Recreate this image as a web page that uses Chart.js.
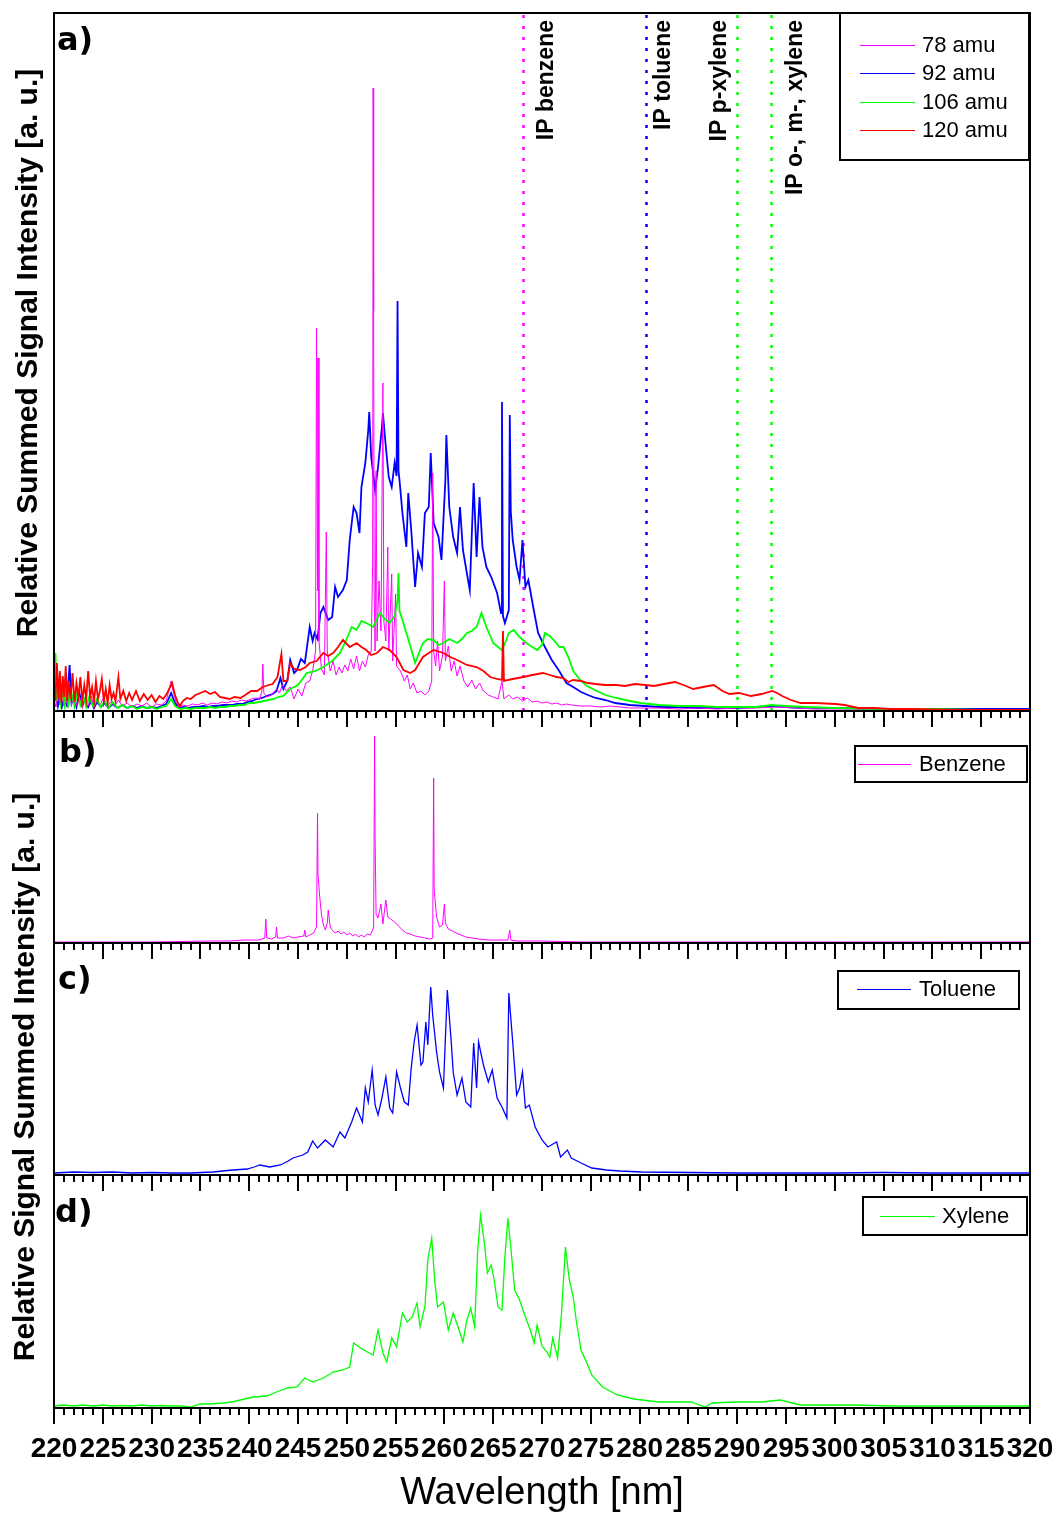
<!DOCTYPE html>
<html>
<head>
<meta charset="utf-8">
<script src="https://cdn.jsdelivr.net/npm/chart.js@4.4.0/dist/chart.umd.min.js"></script>
<style>
body { margin: 0; background: #fff; }
#page { position: relative; width: 1052px; height: 1513px; background: #fff; overflow: hidden; }
canvas { position: absolute; left: 0; }
.ytitle { position: absolute; transform: translate(-50%, -50%) rotate(-90deg); white-space: nowrap;
  font: bold 30px "Liberation Sans", Arial, sans-serif; color: #000; }
</style>
</head>
<body>
<div id="page">
  <canvas id="chartA" width="1052" height="740" style="top:0px"></canvas>
  <canvas id="chartB" width="1052" height="270" style="top:700px"></canvas>
  <canvas id="chartC" width="1052" height="270" style="top:930px"></canvas>
  <canvas id="chartD" width="1052" height="353" style="top:1160px"></canvas>
  <div class="ytitle" style="left:27px;top:353px">Relative Summed Signal Intensity [a. u.]</div>
  <div class="ytitle" style="left:24px;top:1077px">Relative Signal Summed Intensity [a. u.]</div>
</div>
<script>
// x range of every panel (nm)
var wlMin = 220, wlMax = 320;

// two-photon ionisation thresholds marked in panel a
var ipWavelengths = [268.1, 280.7, 290.0, 293.5];
var ipNames = ['IP benzene', 'IP toluene', 'IP p-xylene', 'IP o-, m-, xylene'];
var ipColors = ['#ff00ff', '#0000ff', '#00ff00', '#00ff00'];

// panel a, mass channels [nm, intensity]
var amu78 = [[220,12],[220.2,4],[220.4,18],[220.6,6],[220.8,22],[221,5],[221.2,14],[221.4,4],[221.6,20],[221.8,6],[222,16],[222.3,5],[222.6,14],[222.9,4],[223.2,12],[223.5,5],[223.8,15],[224.1,4],[224.4,10],[224.7,5],[225,12],[225.4,4],[225.8,9],[226.2,5],[226.6,11],[227,5],[227.5,8],[228,4],[228.5,7],[229,5],[229.5,8],[230,4],[230.5,7],[231,6],[231.5,10],[231.8,22],[232,30],[232.2,20],[232.5,9],[232.8,4],[233.2,6],[233.7,5],[234.2,7],[234.7,6],[235.2,8],[235.7,6],[236.2,8],[236.7,7],[237.2,9],[237.7,8],[238.2,10],[238.7,9],[239.2,11],[239.7,10],[240.2,12],[240.7,13],[241.1,12],[241.3,20],[241.4,47],[241.5,18],[241.8,14],[242.3,16],[242.8,22],[243.1,18],[243.4,26],[243.8,20],[244.2,24],[244.6,12],[245,22],[245.4,15],[245.8,28],[246.2,30],[246.5,40],[246.8,60],[246.9,383],[247,120],[247.05,353],[247.15,70],[247.4,42],[247.7,36],[247.9,179],[248,60],[248.3,40],[248.6,50],[248.9,36],[249.2,44],[249.5,38],[249.8,46],[250.1,40],[250.4,52],[250.7,42],[251,55],[251.3,40],[251.6,50],[251.9,44],[252.2,56],[252.5,60],[252.65,150],[252.7,623],[252.75,400],[252.8,120],[252.9,60],[253,240],[253.1,70],[253.3,130],[253.5,80],[253.7,328],[253.8,90],[254,70],[254.2,164],[254.3,60],[254.6,137],[254.7,50],[255,117],[255.1,45],[255.5,40],[255.9,30],[256.2,36],[256.5,22],[256.8,28],[257.2,18],[257.6,20],[258,16],[258.4,20],[258.7,30],[258.8,238],[258.9,60],[259.1,45],[259.3,70],[259.5,40],[259.8,55],[260,130],[260.1,50],[260.4,65],[260.7,40],[261,50],[261.3,35],[261.6,45],[262,30],[262.4,24],[262.8,31],[263.2,22],[263.6,28],[264,20],[264.5,16],[265,14],[265.5,12],[265.9,30],[266.1,12],[266.6,16],[267,12],[267.5,14],[268,10],[268.5,13],[269,9],[269.5,10],[270,8],[270.5,9],[271,7],[271.5,8],[272,6],[272.5,7],[273,6],[274,5],[275,5],[276,4],[277,5],[278,4],[279,3],[280,3],[282,3],[284,2],[286,3],[288,2],[290,3],[292,3],[294,4],[296,3],[298,2],[300,2],[305,2],[310,1],[315,1],[320,1]];
var amu92 = [[220,8],[220.2,20],[220.4,5],[220.6,15],[220.8,4],[221,12],[221.3,6],[221.6,46],[221.8,8],[222,14],[222.3,4],[222.6,18],[222.9,5],[223.2,12],[223.5,4],[223.8,10],[224.1,3],[224.4,9],[224.8,4],[225.2,8],[225.6,3],[226,7],[226.5,3],[227,6],[227.5,3],[228,5],[228.5,3],[229,5],[229.5,3],[230,4],[230.5,3],[231,5],[231.5,7],[232,18],[232.4,8],[232.8,3],[233.3,4],[233.8,3],[234.3,4],[234.8,4],[235.3,5],[235.8,4],[236.3,5],[236.8,5],[237.3,6],[237.8,6],[238.3,6],[238.8,7],[239.3,7],[239.8,9],[240.3,10],[240.8,12],[241.3,13],[241.8,15],[242.4,17],[242.8,20],[243.2,33],[243.5,22],[243.9,30],[244.2,51],[244.6,38],[244.9,41],[245.3,52],[245.7,48],[246.2,84],[246.5,70],[246.7,78],[247,72],[247.3,98],[247.6,104],[248.1,91],[248.5,94],[248.8,124],[249.1,114],[249.6,121],[250,131],[250.3,171],[250.7,204],[251,198],[251.3,178],[251.5,224],[251.9,248],[252.2,281],[252.3,299],[252.5,254],[252.9,221],[253.2,244],[253.6,284],[253.7,298],[254,264],[254.3,234],[254.6,224],[254.9,248],[255.1,235],[255.2,410],[255.3,240],[255.4,231],[255.7,198],[256.1,164],[256.3,218],[256.6,181],[257,124],[257.3,158],[257.7,144],[258,198],[258.4,204],[258.6,258],[258.9,188],[259.4,174],[259.7,151],[260.1,231],[260.2,276],[260.5,204],[260.9,174],[261.3,158],[261.6,204],[261.9,161],[262.3,138],[262.6,121],[263,228],[263.3,154],[263.6,214],[263.9,164],[264.3,144],[264.8,134],[265.4,118],[265.8,98],[265.9,309],[266,95],[266.2,88],[266.6,101],[266.7,296],[266.8,200],[267,171],[267.4,144],[267.7,131],[268,171],[268.3,124],[268.6,131],[269.1,104],[269.6,78],[270.3,64],[271,51],[271.7,41],[272.5,28],[273.2,24],[274,19],[274.7,16],[275.5,13],[276.5,11],[277.5,8],[279,6],[280.5,5],[282,4],[284,4],[286,3],[288,3],[290,3],[292,4],[293.5,5],[295,4],[297,3],[300,3],[305,2],[310,2],[315,2],[320,2]];
var amu106 = [[220,15],[220.15,58],[220.3,10],[220.5,30],[220.7,8],[220.9,22],[221.1,6],[221.3,25],[221.5,7],[221.8,18],[222.1,5],[222.4,20],[222.7,6],[223,15],[223.3,4],[223.6,14],[224,5],[224.4,12],[224.8,4],[225.2,10],[225.6,3],[226,9],[226.5,3],[227,6],[227.5,3],[228,5],[228.5,2],[229,4],[229.5,3],[230,4],[230.5,2],[231,4],[231.5,5],[232,12],[232.4,5],[232.9,2],[233.5,3],[234,2],[234.5,3],[235,3],[235.5,3],[236,4],[236.5,3],[237,4],[237.5,4],[238,5],[238.5,5],[239,6],[239.5,6],[240,8],[240.5,8],[241,9],[241.5,10],[242,11],[242.5,12],[243,14],[243.5,15],[244.2,22],[245,26],[245.9,38],[246.8,40],[247.6,44],[248.5,50],[249.3,58],[249.9,70],[250.5,84],[251,81],[251.5,90],[252,88],[252.7,84],[253.4,98],[253.9,92],[254.4,88],[254.9,95],[255.2,110],[255.3,138],[255.4,100],[255.8,88],[256.1,78],[256.6,62],[257,48],[257.4,58],[257.8,68],[258.3,72],[258.9,71],[259.4,66],[259.9,68],[260.5,72],[261.3,68],[261.8,72],[262.3,78],[262.8,80],[263.3,84],[263.8,98],[264.3,84],[264.7,75],[265,68],[265.5,64],[265.9,61],[266.3,70],[266.6,78],[267.1,81],[267.7,74],[268.4,68],[269,64],[269.5,61],[270,66],[270.3,78],[270.8,75],[271.2,71],[271.8,64],[272.2,64],[272.7,54],[273.2,40],[273.9,31],[274.6,25],[275.4,21],[276.5,16],[277.6,13],[279,10],[280.1,8],[282,6],[284,5],[286,5],[288,4],[290,4],[292,4],[293.5,6],[295,5],[297,4],[300,3],[305,2],[310,2],[315,1],[320,1]];
var amu120 = [[220,30],[220.15,10],[220.3,48],[220.45,12],[220.6,40],[220.75,8],[220.9,35],[221.05,14],[221.2,45],[221.35,10],[221.5,30],[221.7,12],[221.9,38],[222.1,9],[222.3,28],[222.5,14],[222.7,34],[222.9,10],[223.1,26],[223.3,12],[223.5,40],[223.7,14],[223.9,24],[224.1,9],[224.3,30],[224.5,12],[224.7,20],[224.9,32],[225.1,10],[225.3,22],[225.5,8],[225.7,26],[225.9,12],[226.1,18],[226.3,10],[226.6,34],[226.8,12],[227.1,20],[227.4,10],[227.7,18],[228,11],[228.4,20],[228.8,10],[229.2,17],[229.6,11],[230,16],[230.4,9],[230.8,15],[231.2,12],[231.6,18],[231.9,24],[232.1,28],[232.4,16],[232.7,8],[232.9,5],[233.2,10],[233.6,13],[234,12],[234.5,16],[235,18],[235.5,20],[236,17],[236.5,19],[237,14],[237.5,13],[238,12],[238.5,14],[239.1,13],[239.6,16],[240.2,20],[240.8,20],[241.4,24],[242,26],[242.4,27],[242.9,34],[243.3,57],[243.5,30],[243.9,30],[244.2,48],[244.6,42],[245.2,41],[245.8,44],[246.2,48],[246.9,50],[247.6,58],[248.1,55],[248.6,58],[249.1,64],[249.6,71],[250.3,64],[251,68],[251.5,64],[252,61],[252.5,56],[253.1,58],[253.7,64],[254.4,61],[255.1,54],[255.8,41],[256.5,38],[257,41],[257.8,54],[258.4,58],[258.9,61],[259.9,58],[260.6,54],[261.3,51],[262.3,46],[263.3,44],[264,40],[264.7,34],[265.4,32],[265.9,31],[266,80],[266.1,30],[267,32],[268.1,34],[269,36],[270.1,38],[270.8,36],[271.5,34],[272.2,33],[272.7,29],[273.2,31],[274,30],[274.7,28],[275.5,27],[276.5,26],[277.6,26],[278.5,25],[279.5,27],[280.6,26],[281.5,25],[282.5,27],[283.6,29],[284.5,26],[285.5,22],[286.5,24],[287.6,26],[288.5,20],[289.2,17],[290.2,18],[291.4,15],[292.5,17],[293.6,20],[294.1,18],[294.6,15],[295.5,11],[296.5,8],[298,8],[300.1,7],[301,6],[302.4,3],[304,3],[305.6,2],[308,2],[312,1],[316,1],[320,1]];

// panels b-d, pure compounds [nm, intensity]
var benzene = [[220,1],[225,1],[230,1],[233,1.5],[236.3,2],[238,2],[239.5,3],[241,3],[241.6,5],[241.7,24],[241.8,5],[242.3,4],[242.7,6],[242.8,16],[242.9,5],[243.5,5],[244,7],[244.5,5],[245,6],[245.6,7],[245.7,13],[245.8,6],[246.2,8],[246.6,10],[246.9,16],[247,130],[247.05,69],[247.2,49],[247.4,29],[247.6,18],[247.8,13],[248,20],[248.1,33],[248.3,16],[248.5,13],[248.8,10],[249.1,12],[249.4,9],[249.7,11],[250,8],[250.3,10],[250.6,7],[250.9,9],[251.2,6],[251.5,8],[251.8,6],[252.1,9],[252.4,8],[252.6,12],[252.75,16],[252.85,207],[252.9,104],[253,29],[253.2,25],[253.5,39],[253.7,19],[254,43],[254.2,26],[254.5,24],[254.9,21],[255.3,17],[255.7,13],[256.1,10],[256.5,9],[257,7],[257.5,6],[258,5],[258.5,4],[258.8,5],[258.9,165],[258.95,54],[259.2,26],[259.5,16],[259.8,18],[260,39],[260.1,20],[260.4,14],[260.8,12],[261.2,10],[261.7,8],[262.2,6],[262.8,5],[263.5,4],[264.5,3],[265.5,3],[266.5,3],[266.7,13],[266.8,3],[267.5,2],[268.5,2],[270,2],[272,1.5],[274,1],[280,1],[290,1],[300,1],[310,1],[320,1]];
var toluene = [[220,2],[222,3],[224,2.5],[226,3],[228,2],[230,2.5],[232,2],[234,2],[236.3,3],[237.3,4],[238.3,5],[239.8,6],[240.5,8],[241.1,10],[242.1,8],[243.2,10],[244,14],[244.5,17],[245.5,20],[246,23],[246.5,34],[247,27],[247.8,35],[248.6,28],[249.3,43],[249.8,37],[250.5,53],[251,67],[251.6,53],[251.9,87],[252.2,73],[252.6,105],[252.9,70],[253.2,60],[253.6,77],[254,98],[254.4,67],[254.7,62],[255.1,103],[255.5,87],[255.9,73],[256.3,70],[256.6,107],[256.9,133],[257.2,150],[257.6,110],[257.8,113],[258.1,153],[258.3,130],[258.6,188],[258.8,160],[259.2,123],[259.5,103],[259.9,87],[260.3,185],[260.7,133],[260.9,103],[261.3,80],[261.8,97],[262.2,73],[262.7,68],[263,132],[263.3,87],[263.5,133],[264,110],[264.5,93],[264.9,105],[265.4,77],[265.9,68],[266.4,57],[266.6,182],[267,133],[267.4,80],[267.7,87],[268,103],[268.3,67],[268.7,70],[269.3,48],[270,35],[270.6,28],[271.3,32],[271.5,33],[271.9,18],[272.6,25],[273,17],[274,12],[275.1,7],[276.6,5],[278,4],[280.2,3],[285,2.5],[290,2],[295,2],[300,2],[305,2.5],[310,2],[315,2],[320,2]];
var xylene = [[220,2],[221,3],[222,2],[223,3],[224,2],[225,3],[226,2],[227,2.5],[228,2],[229,3],[230,2],[231,2.5],[232,2],[233,2],[234,1],[235,4],[236,4],[237.3,5],[238.2,6],[239.1,8],[240.4,11],[241.8,12],[242.8,16],[243.9,20],[244.9,21],[245.7,30],[246.5,26],[247.6,30],[248.6,36],[249.6,38],[250.3,41],[250.7,65],[251.4,60],[252.1,56],[252.7,53],[253.2,78],[253.7,55],[254.1,46],[254.6,70],[255.1,61],[255.7,95],[256.2,86],[256.7,91],[257.2,105],[257.5,81],[258,101],[258.3,148],[258.7,170],[259,128],[259.3,101],[259.9,106],[260.4,78],[260.9,95],[261.4,81],[261.9,66],[262.3,88],[262.7,100],[263.1,81],[263.4,155],[263.7,193],[264.1,165],[264.4,135],[264.8,143],[265.1,128],[265.5,101],[265.9,98],[266.2,151],[266.5,190],[266.8,161],[267.2,118],[267.7,108],[268.3,91],[268.8,78],[269.2,65],[269.5,83],[270,62],[270.5,56],[270.8,51],[271.1,70],[271.6,50],[272,95],[272.4,161],[272.8,128],[273.2,111],[273.5,88],[274,58],[274.6,45],[275.1,33],[276.2,21],[277.7,13],[279.4,9],[282,6],[285.3,6],[286.7,1],[287.4,5],[289.8,6],[291,6],[292.5,6],[294.4,8],[296.5,3],[299,3],[302,3],[306,2],[310,2],[315,2],[320,2]];

function pts(arr) {
    return arr.map(function (p) { return {x: p[0], y: p[1]}; });
}

function line(label, data, color, order, width) {
    return {label: label, data: pts(data), borderColor: color, borderWidth: width,
        pointRadius: 0, fill: false, tension: 0, order: order};
}

// frame, ticks, panel letter, IP markers and the boxed legend
var deco = {
    id: 'deco',
    beforeDatasetsDraw: function (chart, args, o) {
        if (!o.ip) return;
        var ctx = chart.ctx, a = chart.chartArea, xs = chart.scales.x;
        ctx.save();
        ipWavelengths.forEach(function (w, i) {
            var px = Math.round(xs.getPixelForValue(w)) + 0.5;
            ctx.strokeStyle = ipColors[i];
            ctx.lineWidth = 2.5;
            ctx.setLineDash([3, 8]);
            ctx.beginPath();
            ctx.moveTo(px, a.top + 2);
            ctx.lineTo(px, a.bottom);
            ctx.stroke();
        });
        ctx.restore();
    },
    afterDatasetsDraw: function (chart, args, o) {
        var ctx = chart.ctx, a = chart.chartArea, xs = chart.scales.x;
        ctx.save();
        if (o.ip) {
            var shift = [23, 17, -18, 24];
            ctx.font = 'bold 23px "Liberation Sans", Arial, sans-serif';
            ctx.fillStyle = '#000';
            ctx.textAlign = 'right';
            ctx.textBaseline = 'middle';
            ipWavelengths.forEach(function (w, i) {
                ctx.save();
                ctx.translate(xs.getPixelForValue(w) + shift[i], a.top + 7);
                ctx.rotate(-Math.PI / 2);
                ctx.fillText(ipNames[i], 0, 0);
                ctx.restore();
            });
        }
        // frame
        ctx.strokeStyle = '#000';
        ctx.lineWidth = 2;
        ctx.strokeRect(a.left, a.top, a.right - a.left, a.bottom - a.top);
        // ticks below the panel, 1 nm minor / 5 nm major
        for (var v = wlMin; v <= wlMax; v++) {
            var px = Math.round(xs.getPixelForValue(v));
            var len = v % 5 === 0 ? 16 : 7;
            ctx.beginPath();
            ctx.moveTo(px, a.bottom);
            ctx.lineTo(px, a.bottom + len);
            ctx.stroke();
        }
        // panel letter
        ctx.font = 'bold 32px "DejaVu Sans", sans-serif';
        ctx.textAlign = 'left';
        ctx.textBaseline = 'alphabetic';
        ctx.fillStyle = '#000';
        ctx.fillText(o.letter[0], a.left + o.letter[1], a.top + o.letter[2]);
        // legend
        var L = o.legend;
        var bx0 = a.right + L.box[0], by0 = a.top + L.box[1], bx1 = a.right + L.box[2], by1 = a.top + L.box[3];
        ctx.fillStyle = '#fff';
        ctx.fillRect(bx0, by0, bx1 - bx0, by1 - by0);
        ctx.strokeStyle = '#000';
        ctx.lineWidth = 2;
        ctx.strokeRect(bx0, by0, bx1 - bx0, by1 - by0);
        ctx.font = '22px "Liberation Sans", Arial, sans-serif';
        ctx.textBaseline = 'middle';
        ctx.fillStyle = '#000';
        chart.data.datasets.forEach(function (ds, i) {
            var y = a.top + L.rows[i] + 0.5;
            ctx.strokeStyle = ds.borderColor;
            ctx.lineWidth = 1.2;
            ctx.beginPath();
            ctx.moveTo(a.right + L.line[0], y);
            ctx.lineTo(a.right + L.line[1], y);
            ctx.stroke();
            ctx.fillText(ds.label, a.right + L.text, y);
        });
        ctx.restore();
    }
};

function makeChart(id, datasets, yMax, pad, opts, showAxis) {
    var xAxis = {type: 'linear', min: wlMin, max: wlMax, display: false};
    if (showAxis) {
        xAxis = {
            type: 'linear', min: wlMin, max: wlMax, display: true,
            grid: {drawOnChartArea: false, drawTicks: true, tickLength: 16, color: 'rgba(0,0,0,0)'},
            border: {display: false},
            ticks: {stepSize: 5, autoSkip: false, maxRotation: 0, minRotation: 0, padding: 8, color: '#000',
                font: {family: '"Liberation Sans", Arial, sans-serif', weight: 'bold', size: 28}},
            title: {display: true, text: 'Wavelength [nm]', color: '#000', padding: 0,
                font: {family: '"Liberation Sans", Arial, sans-serif', size: 38, lineHeight: 1}},
            afterFit: function (s) { s.height = 105; s.paddingLeft = 0; s.paddingRight = 0; }
        };
    }
    return new Chart(document.getElementById(id).getContext('2d'), {
        type: 'line',
        data: {datasets: datasets},
        options: {
            responsive: false,
            animation: false,
            layout: {padding: pad},
            plugins: {legend: {display: false}, tooltip: {enabled: false}, deco: opts},
            scales: {
                x: xAxis,
                y: {min: 0, max: yMax, display: false}
            }
        },
        plugins: [deco]
    });
}

makeChart('chartA', [
    line('78 amu', amu78, '#ff00ff', 3, 1),
    line('92 amu', amu92, '#0000ff', 4, 1.8),
    line('106 amu', amu106, '#00ff00', 2, 1.8),
    line('120 amu', amu120, '#ff0000', 1, 1.8)
], 698, {top: 13, bottom: 29, left: 54, right: 22}, {
    ip: true, letter: ['a)', 3, 37],
    legend: {box: [-190, 0, -1, 147], line: [-170, -115], text: -108, rows: [32, 60, 89, 117]}
}, false);

makeChart('chartB', [line('Benzene', benzene, '#ff00ff', 1, 1)], 232,
    {top: 11, bottom: 27, left: 54, right: 22}, {
    ip: false, letter: ['b)', 5, 51],
    legend: {box: [-175, 35, -3, 71], line: [-172, -119], text: -111, rows: [53]}
}, false);

makeChart('chartC', [line('Toluene', toluene, '#0000ff', 1, 1.3)], 232,
    {top: 13, bottom: 25, left: 54, right: 22}, {
    ip: false, letter: ['c)', 4, 46],
    legend: {box: [-192, 28, -11, 66], line: [-173, -119], text: -111, rows: [46]}
}, false);

makeChart('chartD', [line('Xylene', xylene, '#00ff00', 1, 1.3)], 233,
    {top: 15, bottom: 0, left: 54, right: 22}, {
    ip: false, letter: ['d)', 1, 47],
    legend: {box: [-167, 22, -3, 60], line: [-150, -95], text: -88, rows: [41]}
}, true);
</script>
</body>
</html>
